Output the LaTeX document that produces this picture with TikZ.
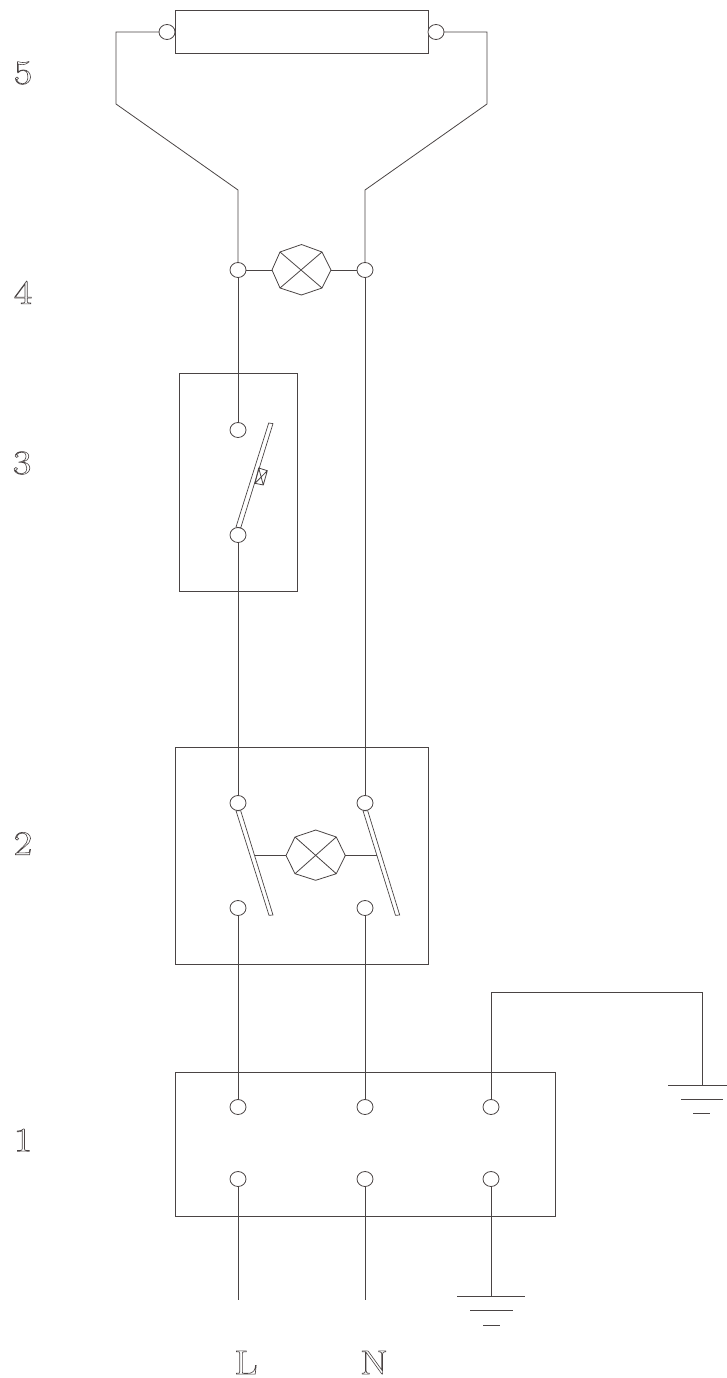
\documentclass[tikz,border=0pt]{standalone}
\usepackage{graphicx}
\usetikzlibrary{shapes.geometric}
\newcommand{\outl}[1]{\scalebox{1.18}[1]{\special{pdf:code 1 Tr 0.55 w}#1\special{pdf:code 0 Tr}}}
\definecolor{ink}{HTML}{4A4444}
\tikzset{
  wire/.style={draw=ink,line width=0.8pt},
  term/.style={ellipse,draw=ink,line width=0.8pt,fill=white,minimum width=16pt,minimum height=15pt,inner sep=0pt,outer sep=0pt},
  panel/.style={rectangle,draw=ink,line width=0.8pt,inner sep=0pt,outer sep=0pt},
  lbl/.style={text=ink,inner sep=0pt,font=\fontsize{34}{34}\selectfont}
}
\begin{document}
\begin{tikzpicture}[x=1pt,y=-1pt]
\useasboundingbox (0,0) rectangle (727,1378);
% panels
\node[panel,minimum width=253pt,minimum height=43pt] (p5) at (301.5,31.5) {};
\node[panel,minimum width=118pt,minimum height=218pt] (p3) at (238,482) {};
\node[panel,minimum width=253pt,minimum height=217pt] (p2) at (301.5,855.5) {};
\node[panel,minimum width=380pt,minimum height=144pt] (p1) at (365,1144) {};
% terminals
\node[term] (t5l) at (167,32) {};
\node[term] (t5r) at (436,32) {};
\node[term] (t4l) at (238,270) {};
\node[term] (t4r) at (365,270) {};
\node[term] (t3a) at (238,430) {};
\node[term] (t3b) at (238,535) {};
\node[term] (t2a) at (238,803) {};
\node[term] (t2b) at (365,803) {};
\node[term] (t2c) at (238,908) {};
\node[term] (t2d) at (365,908) {};
\node[term] (t1a) at (238,1107) {};
\node[term] (t1b) at (365,1107) {};
\node[term] (t1c) at (491,1107) {};
\node[term] (t1d) at (238,1179) {};
\node[term] (t1e) at (365,1179) {};
\node[term] (t1f) at (491,1179) {};
% free ends
\coordinate (endL) at (238,1300);
\coordinate (endN) at (365,1300);
\coordinate (g1) at (491,1296);
\coordinate (g2) at (702,1085);
% lamp 4
\coordinate (a1) at (272,270); \coordinate (a2) at (280,252); \coordinate (a3) at (301.5,244.5); \coordinate (a4) at (322,252);
\coordinate (a5) at (331,270); \coordinate (a6) at (322,288); \coordinate (a7) at (301.5,295); \coordinate (a8) at (280,288);
\draw[wire] (a1)--(a2)--(a3)--(a4)--(a5)--(a6)--(a7)--(a8)--cycle (a2)--(a6) (a4)--(a8);
% lamp 2
\coordinate (b1) at (286,855.5); \coordinate (b2) at (295,837); \coordinate (b3) at (315.7,830); \coordinate (b4) at (336.3,837);
\coordinate (b5) at (345.3,855.5); \coordinate (b6) at (336.3,873.7); \coordinate (b7) at (315.7,880.3); \coordinate (b8) at (295,873.7);
\draw[wire] (b1)--(b2)--(b3)--(b4)--(b5)--(b6)--(b7)--(b8)--cycle (b2)--(b6) (b4)--(b8);
% blades
\draw[wire,line width=0.7pt] (268.7,423)--(273,423.6)--(240.7,528)--(236,527)--cycle;
\draw[wire,line width=0.7pt] (236,810.7)--(240.7,810.7)--(273,915)--(269,915.3)--cycle;
\draw[wire,line width=0.7pt] (363,810.7)--(367.7,810.7)--(399.7,915)--(395.5,915.3)--cycle;
% small box on switch 3
\coordinate (c1) at (258.7,468); \coordinate (c2) at (267.3,470.7); \coordinate (c3) at (263.3,485); \coordinate (c4) at (255,483.3);
\draw[wire] (c1)--(c2)--(c3)--(c4)--cycle (c1)--(c3) (c2)--(c4);
% wires
\draw[wire] (t5l.west)--(116,32)--(116,104)--(238,190)--(t4l.north);
\draw[wire] (t5r.east)--(487,32)--(487,104)--(365,190)--(t4r.north);
\draw[wire] (t4l.east)--(a1);
\draw[wire] (a5)--(t4r.west);
\draw[wire] (t4l.south)--(t3a.north);
\draw[wire] (t3b.south)--(t2a.north);
\draw[wire] (t4r.south)--(t2b.north);
\draw[wire] (t2c.south)--(t1a.north);
\draw[wire] (t2d.south)--(t1b.north);
\draw[wire] (t1d.south)--(endL);
\draw[wire] (t1e.south)--(endN);
\draw[wire] (t1f.south)--(g1);
\draw[wire] (t1c.north)--(491,992)--(702,992)--(g2);
\draw[wire] (255,855.5)--(b1);
\draw[wire] (b5)--(376.5,855.5);
% grounds
\draw[wire] (457,1296)--(525,1296) (470,1310.5)--(513,1310.5) (483,1325)--(500,1325);
\draw[wire] (668,1085)--(727,1085) (681,1099)--(723,1099) (693,1113)--(710,1113);
% labels
\node[lbl] (n5) at (23,73) {\outl{5}};
\node[lbl] (n4) at (23,292.5) {\outl{4}};
\node[lbl] (n3) at (22,463) {\outl{3}};
\node[lbl] (n2) at (23,843.5) {\outl{2}};
\node[lbl] (n1) at (23,1140) {\outl{1}};
\node[lbl] (nL) at (246,1362.5) {\outl{L}};
\node[lbl] (nN) at (374,1362.5) {\outl{N}};
\end{tikzpicture}
\end{document}
